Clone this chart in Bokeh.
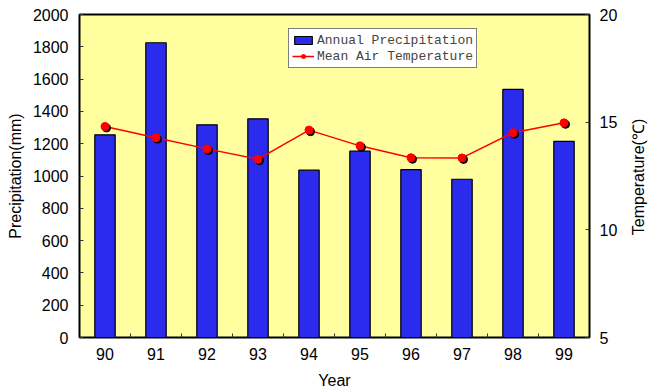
from bokeh.plotting import figure
from bokeh.models import (Range1d, LinearAxis, FixedTicker, ColumnDataSource,
                          Legend, LegendItem, Div)
from bokeh.layouts import row
from bokeh.transform import dodge
from bokeh.embed import file_html
from bokeh.resources import INLINE

years = ["90", "91", "92", "93", "94", "95", "96", "97", "98", "99"]
precipitation = [1255, 1825, 1317, 1354, 1036, 1154, 1039, 980, 1536, 1214]
temperature = [14.8, 14.28, 13.76, 13.28, 14.63, 13.9, 13.35, 13.34, 14.51, 14.97]
precip_ticks = [0, 200, 400, 600, 800, 1000, 1200, 1400, 1600, 1800, 2000]
temp_ticks = [5, 10, 15, 20]
temp_title = "Temperature(℃)"

xs = [i + 0.5 for i in range(len(years))]
src = ColumnDataSource(dict(x=xs, year=years, p=precipitation, t=temperature))

FONT = "Liberation Sans"
BAR = "#2B2BEE"
BG = "#FFFFA0"

p = figure(width=620, height=392, output_backend="svg", toolbar_location=None,
           x_range=Range1d(0, len(years)), y_range=Range1d(0, 2000),
           min_border_left=79, min_border_right=28, min_border_top=14,
           min_border_bottom=55)
p.background_fill_color = BG
p.border_fill_color = "white"
p.outline_line_color = "black"
p.outline_line_width = 2
p.grid.visible = False

p.extra_y_ranges = {"temp": Range1d(5, 20)}

bars = p.vbar(x="x", top="p", width=0.4, source=src, fill_color=BAR,
              line_color="black", line_width=1.2)

line = p.line(x="x", y="t", source=src, y_range_name="temp",
              line_color="#FF0000", line_width=1.5)
p.scatter(x=dodge("x", 0.03), y=dodge("t", -0.07), source=src, y_range_name="temp",
          size=8, fill_color="black", line_color="black")
pts = p.scatter(x="x", y="t", source=src, y_range_name="temp",
                size=8, fill_color="#FF0000", line_color="#FF0000")

# x axis
xa = p.xaxis[0]
xa.ticker = FixedTicker(ticks=xs, minor_ticks=list(range(1, len(years))))
xa.major_label_overrides = {x: y for x, y in zip(xs, years)}
xa.major_tick_in = 0
xa.major_tick_out = 0
xa.minor_tick_in = 4
xa.minor_tick_out = 0
xa.minor_tick_line_color = "#333333"
xa.axis_line_color = None
xa.major_label_standoff = 10
xa.axis_label = "Year"
xa.axis_label_standoff = 9

# left axis
ya = p.yaxis[0]
ya.ticker = FixedTicker(ticks=precip_ticks)
ya.major_tick_in = 4
ya.major_tick_out = 0
ya.minor_tick_line_color = None
ya.axis_line_color = None
ya.major_tick_line_color = "#333333"
ya.major_label_standoff = 11
ya.axis_label = "Precipitation(mm)"
ya.axis_label_standoff = 6

# right axis (its title is drawn in the Div beside the figure)
ra = LinearAxis(y_range_name="temp", ticker=FixedTicker(ticks=temp_ticks))
ra.major_tick_in = 4
ra.major_tick_out = 0
ra.minor_tick_line_color = None
ra.axis_line_color = None
ra.major_tick_line_color = "#333333"
ra.major_label_standoff = 10
p.add_layout(ra, "right")

for ax in (xa, ya, ra):
    ax.major_label_text_font = FONT
    ax.major_label_text_font_size = "16px"
    ax.major_label_text_color = "black"
    ax.axis_label_text_font = FONT
    ax.axis_label_text_font_size = "16px"
    ax.axis_label_text_font_style = "normal"
    ax.axis_label_text_color = "black"

legend = Legend(items=[LegendItem(label="Annual Precipitation", renderers=[bars]),
                       LegendItem(label="Mean Air Temperature", renderers=[line, pts])],
                location=(209, 269))
legend.label_text_font = "Liberation Mono"
legend.label_text_font_size = "13px"
legend.label_height = 16
legend.glyph_height = 10
legend.glyph_width = 22
legend.label_standoff = 3
legend.spacing = 0
legend.padding = 3
legend.margin = 0
legend.border_line_color = "black"
legend.border_line_width = 1.5
legend.background_fill_color = "white"
legend.background_fill_alpha = 1
p.add_layout(legend, "center")

title_div = Div(
    text=('<div style="position:absolute; left:14px; top:172px; '
          'transform:translate(-50%,-50%) rotate(-90deg); white-space:nowrap; '
          "font-family:'Liberation Sans'; font-size:16px; color:black;\">"
          + temp_title + '</div>'),
    width=30, height=392)

layout = row(p, title_div)

open("out.html", "w").write(file_html(layout, INLINE))
